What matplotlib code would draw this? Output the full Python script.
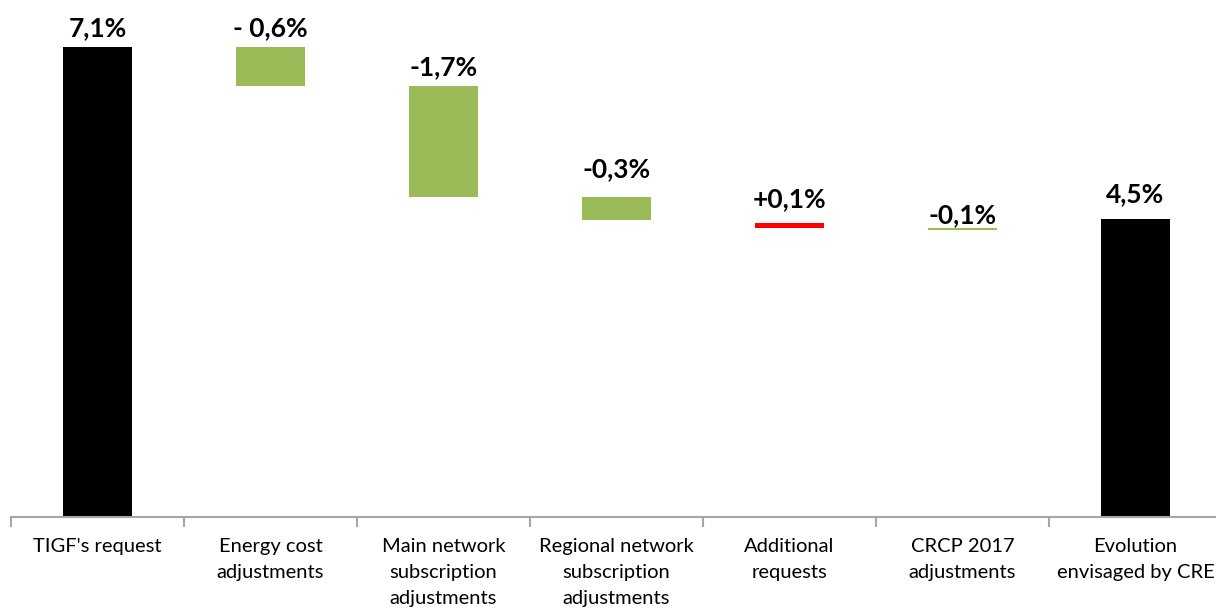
import matplotlib.pyplot as plt

# categories and waterfall levels (in %)
categories = ["TIGF's request", "Energy cost\nadjustments", "Main network\nsubscription\nadjustments",
              "Regional network\nsubscription\nadjustments", "Additional\nrequests",
              "CRCP 2017\nadjustments", "Evolution\nenvisaged by CRE"]
bar_bottom = [0.0, 6.50, 4.83, 4.48, 4.37, 4.33, 0.0]
bar_top = [7.10, 7.10, 6.50, 4.83, 4.44, 4.36, 4.50]
value_labels = ["7,1%", "- 0,6%", "-1,7%", "-0,3%", "+0,1%", "-0,1%", "4,5%"]
bar_colors = ["#000000", "#9BBB59", "#9BBB59", "#9BBB59", "#FF0000", "#9BBB59", "#000000"]

# gap between top of bar and label baseline, in pixels
label_gap = [11, 11, 11, 20, 16, 5, 17]

plt.rcParams['font.family'] = ['Lato', 'DejaVu Sans']

W, H = 1216, 610
fig = plt.figure(figsize=(W / 100, H / 100), dpi=100)
px_per_unit = 66.24
ax = fig.add_axes([11 / W, (H - 517) / H, 1211 / W, 517 / H])
ax.set_xlim(-0.5, 6.5)
ax.set_ylim(0, 517 / px_per_unit)

x = list(range(len(categories)))
heights = [t - b for t, b in zip(bar_top, bar_bottom)]
ax.bar(x, heights, bottom=bar_bottom, width=0.4, color=bar_colors, zorder=2)

for i, lab in enumerate(value_labels):
    y = bar_top[i] + label_gap[i] / px_per_unit
    ax.text(i, y, lab, ha='center', va='baseline', fontsize=19, fontweight='bold', color='black')

for s in ['top', 'right', 'left']:
    ax.spines[s].set_visible(False)
ax.spines['bottom'].set_color('#A6A6A6')
ax.spines['bottom'].set_linewidth(1.5)
ax.set_yticks([])

ax.set_xticks([i - 0.5 for i in range(len(categories) + 1)])
ax.set_xticklabels([])
ax.tick_params(axis='x', length=7, width=1.5, color='#A6A6A6')
for i, c in enumerate(categories):
    ax.text(i, -21 / px_per_unit, c, ha='center', va='top', fontsize=14.5,
            linespacing=1.65, color='black')

fig.savefig('out.png', dpi=100)
